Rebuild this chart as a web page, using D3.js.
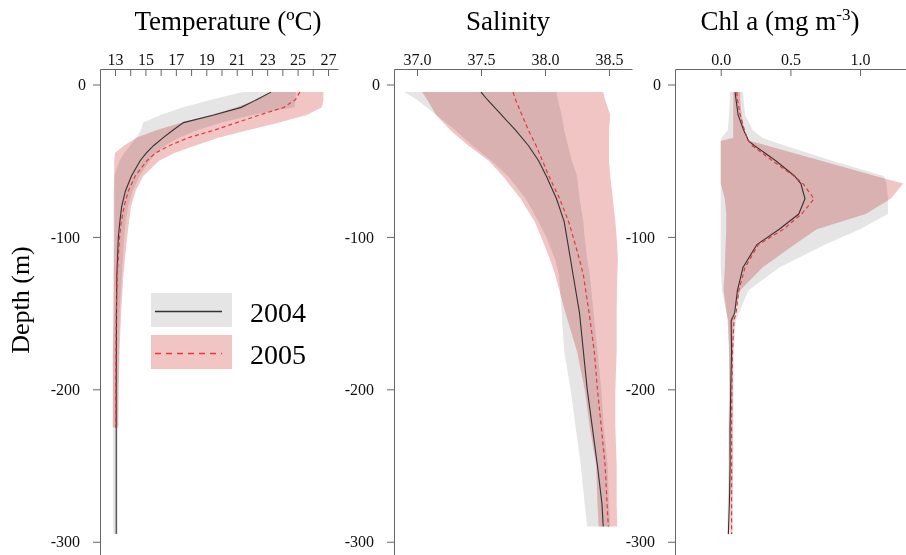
<!DOCTYPE html>
<html>
<head>
<meta charset="utf-8">
<script src="https://cdn.jsdelivr.net/npm/d3@7/dist/d3.min.js"></script>
<style>
  html, body { margin: 0; padding: 0; background: #fff; }
  svg { display: block; font-family: "Liberation Serif", "DejaVu Serif", serif; }
</style>
</head>
<body>
<svg id="chart" width="906" height="555"></svg>
<script>
// ---------------- DATA ----------------
// Temperature (ºC)
const tempDepth2004 = [5,10,15,20,25,30,35,40,45,50,60,70,80,90,100,125,150,175,200,225,250,275,295];
const temp2004Mean = [23.25,22.3,21.3,19.5,17.5,16.8,16.15,15.55,15.05,14.65,14.08,13.68,13.44,13.32,13.22,13.12,13.1,13.09,13.08,13.08,13.08,13.08,13.08];
const temp2004Lo   = [21.4,19.3,17.5,16.0,14.85,14.7,14.4,14.0,13.6,13.3,12.95,12.9,12.9,12.9,12.9,12.9,12.9,12.88,12.88,12.88,12.88,12.88,12.88];
const temp2004Hi   = [24.9,24.85,24.8,22.0,20.0,18.4,17.2,16.3,15.7,15.3,14.6,14.15,13.85,13.7,13.6,13.45,13.3,13.25,13.2,13.2,13.2,13.2,13.2];
const tempDepth2005 = [5,10,15,20,25,30,35,40,45,50,60,70,80,90,100,125,150,175,200,225];
const temp2005Mean = [25.15,24.85,24.1,22.5,21.0,19.5,17.8,16.6,15.65,15.1,14.33,13.87,13.6,13.42,13.3,13.15,13.08,13.06,13.05,13.05];
const temp2005Lo   = [23.2,22.3,21.0,19.3,17.4,15.7,14.4,13.6,13.0,12.95,12.95,12.95,12.95,12.95,12.95,12.92,12.9,12.85,12.85,12.85];
const temp2005Hi   = [26.7,26.7,26.6,25.6,23.8,21.7,19.8,18.3,16.9,15.9,14.85,14.35,14.05,13.92,13.8,13.55,13.4,13.3,13.25,13.22];

// Salinity
const salDepth = [5,10,20,30,40,50,60,75,90,100,115,125,150,175,200,225,250,275,290];
const sal2004Mean = [37.5,37.55,37.66,37.77,37.87,37.95,38.01,38.09,38.15,38.17,38.2,38.22,38.27,38.3,38.33,38.37,38.41,38.445,38.455];
const sal2004Lo   = [36.9,37.0,37.15,37.3,37.43,37.58,37.71,37.85,37.95,38.01,38.08,38.11,38.13,38.15,38.2,38.24,38.28,38.31,38.33];
const sal2004Hi   = [38.09,38.1,38.13,38.15,38.18,38.21,38.25,38.27,38.3,38.31,38.33,38.35,38.38,38.41,38.44,38.46,38.49,38.5,38.51];
const sal2005Mean = [37.75,37.77,37.82,37.87,37.93,37.98,38.03,38.115,38.185,38.22,38.27,38.3,38.345,38.385,38.41,38.44,38.47,38.485,38.495];
const sal2005Lo   = [37.04,37.08,37.15,37.26,37.4,37.56,37.67,37.81,37.92,37.97,38.04,38.08,38.16,38.25,38.31,38.35,38.4,38.41,38.42];
const sal2005Hi   = [38.455,38.47,38.51,38.5,38.5,38.5,38.51,38.53,38.55,38.56,38.57,38.565,38.56,38.56,38.55,38.55,38.56,38.56,38.565];

// Chl a (mg m-3)
const chlDepth = [5,10,20,30,35,37,40,50,60,65,75,85,95,105,120,135,150,155,175,200,225,250,275,295];
const chl2004Mean = [0.103,0.11,0.125,0.165,0.19,0.2,0.24,0.395,0.53,0.575,0.605,0.56,0.42,0.26,0.16,0.12,0.1,0.075,0.078,0.072,0.067,0.067,0.062,0.055];
const chl2004Lo   = [0.065,0.065,0.06,0.05,0.005,0.0,0.0,0.0,0.0,0.0,0.0,0.0,0.0,0.0,0.0,0.01,0.04,0.055,0.06,0.06,0.055,0.055,0.05,0.048];
const chl2004Hi   = [0.16,0.165,0.175,0.23,0.3,0.36,0.46,0.8,1.17,1.19,1.2,1.2,1.0,0.75,0.42,0.2,0.13,0.11,0.09,0.085,0.08,0.075,0.07,0.065];
const chl2005Mean = [0.115,0.12,0.14,0.17,0.19,0.2,0.225,0.37,0.525,0.59,0.67,0.58,0.45,0.27,0.175,0.13,0.11,0.095,0.085,0.08,0.078,0.078,0.078,0.078];
const chl2005Lo   = [0.09,0.09,0.09,0.09,0.09,0.0,0.0,0.0,0.0,0.0,0.03,0.04,0.04,0.035,0.03,0.02,0.043,0.05,0.06,0.065,0.065,0.065,0.068,0.07];
const chl2005Hi   = [0.14,0.14,0.15,0.17,0.19,0.21,0.33,0.72,1.11,1.31,1.22,1.04,0.69,0.53,0.3,0.14,0.1,0.095,0.09,0.09,0.09,0.09,0.085,0.085];

// Axis ticks / labels
const depthTicks = [0, -100, -200, -300];
const tempTicks = [13,14,15,16,17,18,19,20,21,22,23,24,25,26,27];
const tempLabelTicks = [13,15,17,19,21,23,25,27];
const salTicks = [37.0, 37.5, 38.0, 38.5];
const chlTicks = [0.0, 0.5, 1.0];
const years = ["2004", "2005"];

// ---------------- DRAW ----------------
const svg = d3.select("#chart");
const greyFill = "#e5e5e5", pinkFill = "#f2c5c5";
const lineBlack = "#333333", lineRed = "#e8363c";

const y = d3.scaleLinear().domain([10.17, -308.7]).range([69, 555]);

function zip(depth, mean, lo, hi) {
  return depth.map((d, i) => ({ d: d, m: mean[i], lo: lo[i], hi: hi[i] }));
}

function panel(cfg) {
  const x = d3.scaleLinear().domain(cfg.domain).range([cfg.left, cfg.left + 238]);
  const g = svg.append("g");

  const area = d3.area().y(p => y(-p.d)).x0(p => x(p.lo)).x1(p => x(p.hi));
  const line = d3.line().y(p => y(-p.d)).x(p => x(p.m));

  g.append("path").datum(cfg.s2004).attr("d", area).attr("fill", greyFill)
    .style("mix-blend-mode", "multiply");
  g.append("path").datum(cfg.s2005).attr("d", area).attr("fill", pinkFill)
    .style("mix-blend-mode", "multiply");
  g.append("path").datum(cfg.s2004).attr("d", line).attr("fill", "none")
    .attr("stroke", lineBlack).attr("stroke-width", 1.1);
  g.append("path").datum(cfg.s2005).attr("d", line).attr("fill", "none")
    .attr("stroke", lineRed).attr("stroke-width", 1.2).attr("stroke-dasharray", "4,3");

  // top axis (ticks pointing inward / down)
  const top = d3.axisTop(x).tickValues(cfg.ticks).tickSizeInner(-7).tickSizeOuter(0).tickPadding(4)
    .tickFormat(cfg.fmt);
  const ta = g.append("g").attr("transform", "translate(0,69)").call(top);
  ta.select(".domain").attr("stroke", "#666");
  ta.selectAll(".tick line").attr("stroke", "#666");
  ta.selectAll(".tick text").attr("font-size", 16).attr("fill", "#111")
    .attr("font-family", "Liberation Serif, serif");

  // left axis
  const left = d3.axisLeft(y).tickValues(depthTicks).tickSizeInner(7).tickSizeOuter(0).tickFormat(d3.format("d"));
  const la = g.append("g").attr("transform", `translate(${cfg.left},0)`).call(left);
  la.select(".domain").attr("stroke", "#666");
  la.selectAll(".tick line").attr("stroke", "#666");
  la.selectAll(".tick text").attr("font-size", 16).attr("fill", "#111")
    .attr("font-family", "Liberation Serif, serif")
    .attr("x", d => d === 0 ? -14 : -20)
    .text(d => d === 0 ? "0" : "-" + Math.abs(d));

  // title
  const t = g.append("text").attr("x", cfg.titleX).attr("y", 30).attr("text-anchor", "middle")
    .attr("font-size", 27).attr("fill", "#000");
  cfg.title(t);
}

panel({
  left: 100, domain: [12.014, 27.657], ticks: tempTicks,
  fmt: d => tempLabelTicks.includes(d) ? String(d) : "",
  s2004: zip(tempDepth2004, temp2004Mean, temp2004Lo, temp2004Hi),
  s2005: zip(tempDepth2005, temp2005Mean, temp2005Lo, temp2005Hi),
  titleX: 228, title: t => t.text("Temperature (ºC)")
});
panel({
  left: 394, domain: [36.82, 38.68], ticks: salTicks, fmt: d3.format(".1f"),
  s2004: zip(salDepth, sal2004Mean, sal2004Lo, sal2004Hi),
  s2005: zip(salDepth, sal2005Mean, sal2005Lo, sal2005Hi),
  titleX: 508, title: t => t.text("Salinity")
});
panel({
  left: 675, domain: [-0.328, 1.38], ticks: chlTicks, fmt: d3.format(".1f"),
  s2004: zip(chlDepth, chl2004Mean, chl2004Lo, chl2004Hi),
  s2005: zip(chlDepth, chl2005Mean, chl2005Lo, chl2005Hi),
  titleX: 780, title: t => {
    t.append("tspan").text("Chl a (mg m");
    t.append("tspan").attr("font-size", 17).attr("dy", -10).text("-3");
    t.append("tspan").attr("dy", 10).text(")");
  }
});

// y label
svg.append("text").attr("transform", "translate(29,300) rotate(-90)")
  .attr("text-anchor", "middle").attr("font-size", 26).attr("fill", "#000").text("Depth (m)");

// legend
const leg = svg.append("g");
const legFills = [greyFill, pinkFill];
years.forEach((yr, i) => {
  const oy = 293 + i * 42;
  leg.append("rect").attr("x", 151).attr("y", oy).attr("width", 81).attr("height", 34).attr("fill", legFills[i]);
  const ln = leg.append("line").attr("x1", 155).attr("x2", 222).attr("y1", oy + 18.5).attr("y2", oy + 18.5)
    .attr("stroke", i === 0 ? lineBlack : lineRed).attr("stroke-width", i === 0 ? 1.5 : 1.5);
  if (i === 1) ln.attr("stroke-dasharray", "6,5");
  leg.append("text").attr("x", 250).attr("y", oy + 29).attr("font-size", 28).attr("fill", "#000").text(yr);
});
</script>
</body>
</html>
